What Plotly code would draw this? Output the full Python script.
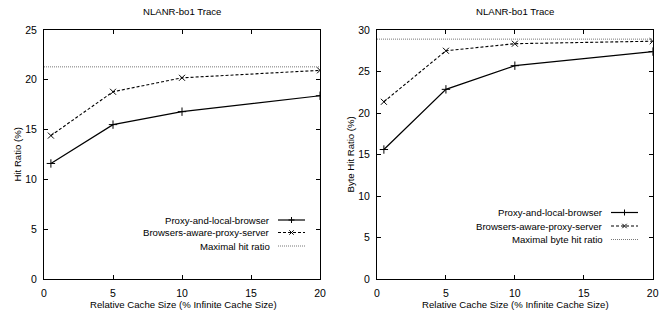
import plotly.graph_objects as go

W, H = 664, 320

cache_sizes = [0.5, 5, 10, 20]
hit_proxy_local = [11.6, 15.5, 16.8, 18.4]
hit_browsers_aware = [14.4, 18.8, 20.2, 20.95]
max_hit_ratio = 21.3
byte_proxy_local = [15.6, 22.85, 25.7, 27.4]
byte_browsers_aware = [21.35, 27.5, 28.35, 28.65]
max_byte_hit_ratio = 28.9
x_range = [0, 20]

title_text = "NLANR-bo1 Trace"
x_title = "Relative Cache Size (% Infinite Cache Size)"
y_title_left = "Hit Ratio (%)"
y_title_right = "Byte Hit Ratio (%)"
legend_left = ["Proxy-and-local-browser", "Browsers-aware-proxy-server", "Maximal hit ratio"]
legend_right = ["Proxy-and-local-browser", "Browsers-aware-proxy-server", "Maximal byte hit ratio"]

FONT = "Liberation Sans Narrow, Arial Narrow, Liberation Sans, Arial, sans-serif"
FS = 9.6

def px(x):
    return x / W

def py(y):
    return 1 - y / H

fig = go.Figure()

def add_series(xa, ya, s1, s2, mx):
    fig.add_trace(go.Scatter(x=cache_sizes, y=s1, xaxis=xa, yaxis=ya, mode="lines+markers",
                             line=dict(color="black", width=1.2),
                             marker=dict(symbol="cross-thin", size=6, line=dict(color="black", width=1)),
                             showlegend=False))
    fig.add_trace(go.Scatter(x=cache_sizes, y=s2, xaxis=xa, yaxis=ya, mode="lines+markers",
                             line=dict(color="black", width=1.1, dash="3px,2px"),
                             marker=dict(symbol="x-thin", size=6, line=dict(color="black", width=1)),
                             showlegend=False))
    fig.add_trace(go.Scatter(x=x_range, y=[mx, mx], xaxis=xa, yaxis=ya, mode="lines",
                             line=dict(color="#777", width=1, dash="1px,1px"),
                             showlegend=False))

add_series("x", "y", hit_proxy_local, hit_browsers_aware, max_hit_ratio)
add_series("x2", "y2", byte_proxy_local, byte_browsers_aware, max_byte_hit_ratio)

axis_common = dict(showline=True, linecolor="black", linewidth=1, mirror="allticks",
                   ticks="inside", ticklen=4, tickcolor="black", tickwidth=1,
                   showgrid=False, zeroline=False, automargin=False, ticklabelstandoff=4,
                   tickfont=dict(family=FONT, size=10.5, color="black"))

L1, R1, L2, R2, TOP, BOT = 44, 320, 377, 652.7, 30, 279
ydom = [py(BOT), py(TOP)]
tfont = dict(family=FONT, size=FS, color="black")
fig.update_layout(
    template="none",
    width=W, height=H, margin=dict(l=0, r=0, t=0, b=0),
    paper_bgcolor="white", plot_bgcolor="white",
    font=dict(family=FONT, size=FS, color="black"),
    xaxis=dict(domain=[px(L1), px(R1)], range=x_range, tickvals=[0, 5, 10, 15, 20], anchor="y", **axis_common),
    yaxis=dict(domain=ydom, range=[0, 25], tickvals=[0, 5, 10, 15, 20, 25], anchor="x", **axis_common),
    xaxis2=dict(domain=[px(L2), px(R2)], range=x_range, tickvals=[0, 5, 10, 15, 20], anchor="y2", **axis_common),
    yaxis2=dict(domain=ydom, range=[0, 30], tickvals=[0, 5, 10, 15, 20, 25, 30], anchor="x2", **axis_common),
)

annotations = []
shapes = []

def ann(text, x, y, xanchor="center", angle=0):
    annotations.append(dict(text=text, x=px(x), y=py(y), xref="paper", yref="paper",
                            showarrow=False, xanchor=xanchor, yanchor="middle",
                            textangle=angle, font=tfont))

for l, r in [(L1, R1), (L2, R2)]:
    ann(title_text, (l + r) / 2, 11)
    ann(x_title, (l + r) / 2 + 1, 304)
ann(y_title_left, 17, (TOP + BOT) / 2, angle=-90)
ann(y_title_right, 350, (TOP + BOT) / 2, angle=-90)

def legend(labels, text_right, ys):
    x0, x1 = text_right + 6, text_right + 33
    xc = (x0 + x1) / 2
    styles = [dict(color="black", width=1.2), dict(color="black", width=1.1, dash="3px,2px"),
              dict(color="#777", width=1, dash="1px,1px")]
    for i, (lab, yy) in enumerate(zip(labels, ys)):
        ann(lab, text_right, yy, xanchor="right")
        shapes.append(dict(type="line", xref="paper", yref="paper", x0=px(x0), x1=px(x1),
                           y0=py(yy), y1=py(yy), line=styles[i]))
    shapes.append(dict(type="line", xref="paper", yref="paper", x0=px(xc - 3), x1=px(xc + 3),
                       y0=py(ys[0]), y1=py(ys[0]), line=dict(color="black", width=1)))
    shapes.append(dict(type="line", xref="paper", yref="paper", x0=px(xc), x1=px(xc),
                       y0=py(ys[0] - 3), y1=py(ys[0] + 3), line=dict(color="black", width=1)))
    shapes.append(dict(type="line", xref="paper", yref="paper", x0=px(xc - 2.2), x1=px(xc + 2.2),
                       y0=py(ys[1] - 2.2), y1=py(ys[1] + 2.2), line=dict(color="black", width=1)))
    shapes.append(dict(type="line", xref="paper", yref="paper", x0=px(xc - 2.2), x1=px(xc + 2.2),
                       y0=py(ys[1] + 2.2), y1=py(ys[1] - 2.2), line=dict(color="black", width=1)))

legend(legend_left, 272, [220, 232.5, 246])
legend(legend_right, 605, [212.5, 226, 239.5])

fig.update_layout(annotations=annotations, shapes=shapes)
fig.write_html("out.html", config={"displayModeBar": False},
               post_script="document.body.style.margin='0';document.body.style.overflow='hidden';")
